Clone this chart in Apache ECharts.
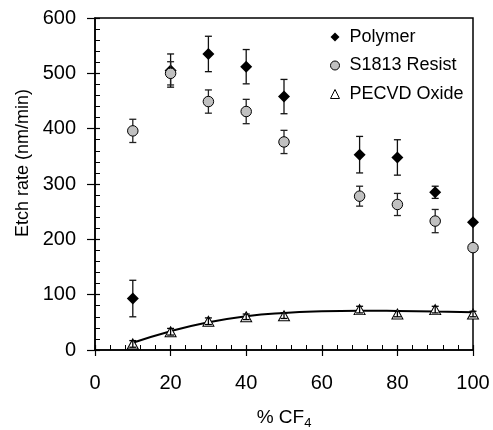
<!DOCTYPE html>
<html>
<head>
<meta charset="utf-8">
<script src="https://cdn.jsdelivr.net/npm/echarts@6/dist/echarts.min.js"></script>
<style>
  html, body { margin: 0; padding: 0; background: #fff; }
  #main { width: 493px; height: 430px; }
</style>
</head>
<body>
<div id="main"></div>
<script>
// % CF4 on x
var cf4 = [10, 20, 30, 40, 50, 70, 80, 90, 100];
// etch rates (nm/min) and error bars
var polymer = [93, 505, 535, 512, 458, 353, 348, 285, 231];
var polymerErr = [33, 30, 32, 31, 31, 33, 32, 11, 0];
var resist = [396, 500, 449, 431, 376, 278, 263, 233, 185];
var resistErr = [21, 21, 21, 22, 21, 18, 20, 21, 0];
var oxide = [11, 33, 52, 60, 62, 73, 65, 73, 65];
var oxideErr = [6, 6, 6, 5, 5, 6, 5, 6, 5];
// fitted curve through oxide
var fitX = [10, 20, 30, 40, 50, 60, 70, 80, 90, 100];
var fitY = [13, 34, 50, 61, 67, 70, 71, 70.5, 69.5, 68];
var xTicks = [0, 20, 40, 60, 80, 100];
var yTicks = [0, 100, 200, 300, 400, 500, 600];

var FONT = 'Liberation Sans';

function pairs(xs, ys, es) {
    var out = [];
    for (var i = 0; i < xs.length; i++) {
        out.push(es ? [xs[i], ys[i], es[i]] : [xs[i], ys[i]]);
    }
    return out;
}

// error bar with caps
function errBar(color) {
    return function (params, api) {
        var x = api.value(0), y = api.value(1), e = api.value(2);
        if (!e) return null;
        var top = api.coord([x, y + e]);
        var bot = api.coord([x, y - e]);
        var w = 3.5;
        var st = { stroke: color, lineWidth: 1.3 };
        return {
            type: 'group',
            children: [
                { type: 'line', shape: { x1: top[0], y1: top[1], x2: bot[0], y2: bot[1] }, style: st },
                { type: 'line', shape: { x1: top[0] - w, y1: top[1], x2: top[0] + w, y2: top[1] }, style: st },
                { type: 'line', shape: { x1: bot[0] - w, y1: bot[1], x2: bot[0] + w, y2: bot[1] }, style: st }
            ]
        };
    };
}

var chart = echarts.init(document.getElementById('main'));

var option = {
    animation: false,
    backgroundColor: '#fff',
    textStyle: { fontFamily: FONT },
    grid: {
        left: 95, right: 20, top: 18, bottom: 80,
        containLabel: false, outerBoundsMode: 'none',
        show: true, borderColor: '#000', borderWidth: 1.5
    },
    legend: {
        orient: 'vertical',
        left: 325, top: 23,
        itemWidth: 9, itemHeight: 9,
        itemGap: 10.5,
        textStyle: { fontFamily: FONT, fontSize: 18, lineHeight: 18, color: '#000', padding: [0, 0, 0, 5] },
        data: [
            { name: 'Polymer', icon: 'diamond', itemStyle: { color: '#000', borderWidth: 0 } },
            { name: 'S1813 Resist', icon: 'circle', itemStyle: { color: '#c0c0c0', borderColor: '#000', borderWidth: 1 } },
            { name: 'PECVD Oxide', icon: 'triangle', itemStyle: { color: '#fff', borderColor: '#000', borderWidth: 1 } }
        ]
    },
    xAxis: [{
        type: 'value', min: 0, max: 100, interval: 20,
        name: '% CF{s|4}', nameLocation: 'middle', nameGap: 55,
        nameTextStyle: {
            fontFamily: FONT, fontSize: 19, color: '#000',
            rich: { s: { fontFamily: FONT, fontSize: 13, color: '#000', verticalAlign: 'bottom', padding: [12, 0, 0, 0] } }
        },
        axisLine: { lineStyle: { color: '#000', width: 1.5 } },
        axisTick: { inside: true, length: 5, lineStyle: { color: '#000', width: 1.2 } },
        minorTick: { show: true, splitNumber: 5, length: 5, lineStyle: { color: '#000', width: 1 } },
        axisLabel: { fontFamily: FONT, fontSize: 20, color: '#000', margin: 23,
            formatter: function (v) { return xTicks.indexOf(v) >= 0 ? String(v) : ''; } },
        splitLine: { show: false }
    }, {
        type: 'value', min: 0, max: 100, interval: 20, position: 'bottom',
        axisLine: { show: false },
        axisTick: { inside: false, length: 6, lineStyle: { color: '#000', width: 1.2 } },
        axisLabel: { show: false },
        splitLine: { show: false }
    }],
    yAxis: [{
        type: 'value', min: 0, max: 600, interval: 100,
        axisLine: { show: true, lineStyle: { color: '#000', width: 1.5 } },
        axisTick: { show: true, inside: true, length: 5, lineStyle: { color: '#000', width: 1.2 } },
        minorTick: { show: true, splitNumber: 5, length: 5, lineStyle: { color: '#000', width: 1 } },
        axisLabel: { fontFamily: FONT, fontSize: 20, color: '#000', margin: 19,
            formatter: function (v) { return yTicks.indexOf(v) >= 0 ? String(v) : ''; } },
        splitLine: { show: false }
    }, {
        type: 'value', min: 0, max: 600, interval: 100, position: 'left',
        axisLine: { show: false },
        axisTick: { show: true, inside: false, length: 8, lineStyle: { color: '#000', width: 1.2 } },
        axisLabel: { show: false },
        splitLine: { show: false }
    }],
    graphic: [{
        type: 'text',
        x: 23, y: 163, rotation: Math.PI / 2,
        style: {
            text: 'Etch rate (nm/min)', fontFamily: FONT, fontSize: 18, fill: '#000',
            align: 'center', verticalAlign: 'middle'
        }
    }],
    series: [
        {
            type: 'line', name: 'fit', data: pairs(fitX, fitY),
            smooth: true, showSymbol: false, symbol: 'none',
            lineStyle: { color: '#000', width: 2 }, z: 2, silent: true
        },
        {
            type: 'custom', name: 'polymerErr', renderItem: errBar('#111'),
            data: pairs(cf4, polymer, polymerErr), clip: false, z: 3
        },
        {
            type: 'scatter', name: 'Polymer', data: pairs(cf4, polymer),
            symbol: 'diamond', symbolSize: 12, clip: false,
            itemStyle: { color: '#000', opacity: 1 }, z: 4
        },
        {
            type: 'custom', name: 'resistErr', renderItem: errBar('#222'),
            data: pairs(cf4, resist, resistErr), clip: false, z: 5
        },
        {
            type: 'scatter', name: 'S1813 Resist', data: pairs(cf4, resist),
            symbol: 'circle', symbolSize: 10.5, clip: false,
            itemStyle: { color: '#c0c0c0', borderColor: '#000', borderWidth: 1, opacity: 1 }, z: 6
        },
        {
            type: 'scatter', name: 'PECVD Oxide', data: pairs(cf4, oxide),
            symbol: 'triangle', symbolSize: [11, 10], clip: false,
            itemStyle: { color: '#fff', borderColor: '#000', borderWidth: 1, opacity: 1 }, z: 6
        },
        {
            type: 'custom', name: 'oxideErr', renderItem: errBar('#000'),
            data: pairs(cf4, oxide, oxideErr), clip: false, z: 7
        }
    ]
};

chart.setOption(option);
</script>
</body>
</html>
